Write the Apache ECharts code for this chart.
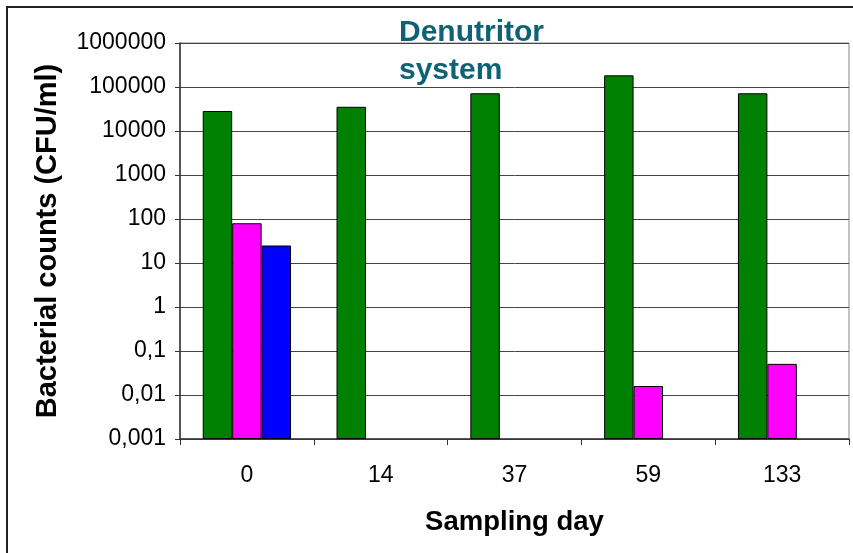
<!DOCTYPE html>
<html>
<head>
<meta charset="utf-8">
<script src="https://cdn.jsdelivr.net/npm/echarts@6/dist/echarts.min.js"></script>
<style>
html,body{margin:0;padding:0;background:#fff;}
#chart{width:853px;height:553px;}
</style>
</head>
<body>
<div id="chart"></div>
<script>
// Data
var categories = ['0', '14', '37', '59', '133'];
var seriesGreen = [28500, 35500, 72000, 184000, 72000];
var seriesMagenta = [80, null, null, 0.015, 0.05];
var seriesBlue = [25, null, null, null, null];
var yTickLabels = ['0,001', '0,01', '0,1', '1', '10', '100', '1000', '10000', '100000', '1000000'];
var axisFloor = 0.001;
var titleText = 'Denutritor\nsystem';
var xAxisTitle = 'Sampling day';
var yAxisTitle = 'Bacterial counts (CFU/ml)';

var FONT = 'Arial, "Liberation Sans", sans-serif';
var chart = echarts.init(document.getElementById('chart'), null, {renderer: 'canvas'});

// On a log axis ECharts starts bars at 1; an invisible stacked base at the
// axis floor makes the visible bars rise from the bottom of the plot.
function baseSeries(stackId, data) {
  return {
    type: 'bar',
    stack: stackId,
    data: data.map(function (v) { return v == null ? null : axisFloor; }),
    barGap: '0%',
    barCategoryGap: '34%',
    itemStyle: {color: 'rgba(0,0,0,0)', borderWidth: 0},
    silent: true,
    animation: false
  };
}
function barSeries(name, stackId, data, color) {
  return {
    name: name,
    type: 'bar',
    stack: stackId,
    data: data,
    barGap: '0%',
    barCategoryGap: '34%',
    itemStyle: {color: color, borderColor: '#000', borderWidth: 1},
    animation: false
  };
}

var option = {
  animation: false,
  backgroundColor: '#fff',
  title: {
    text: titleText,
    left: 399,
    top: 14,
    padding: 0,
    textStyle: {
      fontFamily: FONT,
      fontSize: 30,
      fontWeight: 'bold',
      color: '#0F6275',
      lineHeight: 38
    }
  },
  graphic: [{
    type: 'rect',
    shape: {x: 7, y: 7, width: 900, height: 600},
    style: {fill: 'none', stroke: '#222', lineWidth: 2},
    silent: true,
    z: -1
  }],
  grid: {
    left: 180, top: 43, right: 4, bottom: 114,
    show: true, borderColor: '#888', borderWidth: 1
  },
  xAxis: {
    type: 'category',
    data: categories,
    boundaryGap: true,
    name: xAxisTitle,
    nameLocation: 'middle',
    nameGap: 69,
    nameTextStyle: {fontFamily: FONT, fontSize: 27.5, fontWeight: 'bold', color: '#000'},
    axisLine: {lineStyle: {color: '#333', width: 1.5}},
    axisTick: {show: true, inside: false, length: 6, alignWithLabel: false, lineStyle: {color: '#333'}},
    axisLabel: {fontFamily: FONT, fontSize: 23, color: '#000', margin: 25},
    splitLine: {show: false}
  },
  yAxis: {
    type: 'log',
    logBase: 10,
    min: 0.001,
    max: 1000000,
    name: yAxisTitle,
    nameLocation: 'middle',
    nameGap: 118,
    nameRotate: 90,
    nameTextStyle: {fontFamily: FONT, fontSize: 29, fontWeight: 'bold', color: '#000'},
    axisLine: {show: true, lineStyle: {color: '#333', width: 1.5}},
    axisTick: {show: true, inside: false, length: 5, lineStyle: {color: '#333'}},
    axisLabel: {
      fontFamily: FONT, fontSize: 23, color: '#000', margin: 14,
      formatter: function (v) {
        var idx = Math.round(Math.log(v) / Math.LN10) + 3;
        return yTickLabels[idx] !== undefined ? yTickLabels[idx] : '';
      }
    },
    splitLine: {show: true, lineStyle: {color: '#444', width: 1}},
    minorTick: {show: false}
  },
  series: [
    baseSeries('g', seriesGreen),
    barSeries('Series 1', 'g', seriesGreen, '#008000'),
    baseSeries('m', seriesMagenta),
    barSeries('Series 2', 'm', seriesMagenta, '#FF00FF'),
    baseSeries('b', seriesBlue),
    barSeries('Series 3', 'b', seriesBlue, '#0000FF')
  ]
};
chart.setOption(option);
</script>
</body>
</html>
